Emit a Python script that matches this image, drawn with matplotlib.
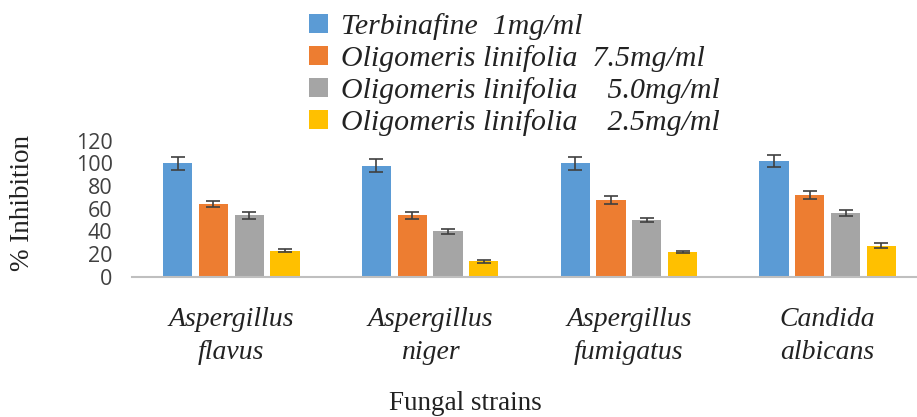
import matplotlib
matplotlib.use("Agg")
import matplotlib.pyplot as plt
import numpy as np

categories = ["Aspergillus\nflavus", "Aspergillus\nniger", "Aspergillus\nfumigatus", "Candida\nalbicans"]
series_names = ["Terbinafine  1mg/ml", "Oligomeris linifolia  7.5mg/ml",
                "Oligomeris linifolia    5.0mg/ml", "Oligomeris linifolia    2.5mg/ml"]
terbinafine = [100, 98, 100, 102]
ol_75 = [64, 54, 68, 72]
ol_50 = [54, 40, 50, 56]
ol_25 = [23, 13.5, 21.5, 27.5]
err_terbinafine = [5.5, 5.5, 5.5, 5.5]
err_ol_75 = [2.8, 2.8, 3.5, 3.5]
err_ol_50 = [2.8, 2.0, 2.0, 2.8]
err_ol_25 = [1.0, 1.0, 1.0, 2.0]
yticks = [0, 20, 40, 60, 80, 100, 120]

colors = ["#5B9BD5", "#ED7D31", "#A5A5A5", "#FFC000"]
values = [terbinafine, ol_75, ol_50, ol_25]
errors = [err_terbinafine, err_ol_75, err_ol_50, err_ol_25]

W, H = 917, 417
fig = plt.figure(figsize=(W / 100, H / 100), dpi=100)
left, right = 132 / W, 927 / W
bottom = (H - 276.7) / H
top = (H - 140.6) / H
ax = fig.add_axes([left, bottom, right - left, top - bottom])

x = np.arange(len(categories))
slot = 0.18
bw = 0.148
handles = []
for i, (vals, errs, c) in enumerate(zip(values, errors, colors)):
    pos = x + (i - 1.5) * slot
    b = ax.bar(pos, vals, width=bw, color=c, zorder=2, label=series_names[i])
    ax.errorbar(pos, vals, yerr=errs, fmt="none", ecolor="#404040", elinewidth=1.2,
                capsize=4.7, capthick=1.2, zorder=3)
    handles.append(b)

ax.set_xlim(-0.5, len(categories) - 0.5)
ax.set_ylim(0, 120)
ax.set_yticks(yticks)
ax.set_yticklabels([str(t) for t in yticks], fontfamily="Open Sans", fontsize=15.5, color="#404040")
ax.tick_params(axis="y", length=0, pad=14)
ax.set_xticks(x)
ax.set_xticklabels(categories, fontfamily="Liberation Serif", style="italic", fontsize=20,
                   color="#222222", linespacing=1.42)
ax.tick_params(axis="x", length=0, pad=22)
for s in ["left", "right", "top"]:
    ax.spines[s].set_visible(False)
ax.spines["bottom"].set_color("#BFBFBF")
ax.spines["bottom"].set_linewidth(1.5)
ax.set_facecolor("none")

fig.text(23 / W, (H - 203) / H, "% Inhibition", rotation=90, ha="center", va="center",
         fontfamily="Liberation Serif", fontsize=19.5, color="#222222")
fig.text(465 / W, (H - 404) / H, "Fungal strains", ha="center", va="center",
         fontfamily="Liberation Serif", fontsize=19.5, color="#222222")

leg = fig.legend(handles=handles, labels=series_names, loc="upper left",
                 bbox_to_anchor=(309 / W, 1 - 13 / H), frameon=False,
                 prop={"family": "Liberation Serif", "style": "italic", "size": 21.5},
                 handlelength=0.62, handleheight=0.62, handletextpad=0.45,
                 labelspacing=0.17, borderpad=0, borderaxespad=0)
for t in leg.get_texts():
    t.set_color("#222222")

fig.savefig("out.png", dpi=100)
